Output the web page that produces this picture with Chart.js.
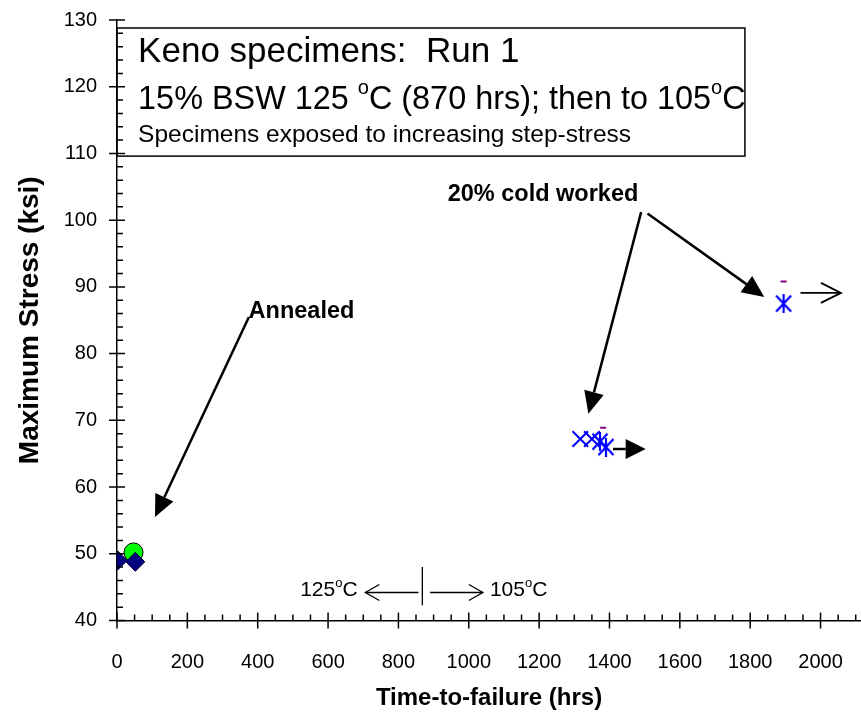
<!DOCTYPE html>
<html lang="en">
<head>
<meta charset="UTF-8">
<title>Keno specimens: Run 1</title>
<script src="https://cdn.jsdelivr.net/npm/chart.js"></script>
<style>
  html, body { margin: 0; padding: 0; background: #fff; }
  #wrap { width: 861px; height: 718px; }
</style>
</head>
<body>
<div id="wrap"><canvas id="keno"></canvas></div>
<script>
  // axes
  const xMin = 0, xMax = 2115, xStep = 200, xMinorStep = 50;
  const yMin = 40, yMax = 130, yStep = 10, yMinorStep = 2;
  const xTickValues = [0, 200, 400, 600, 800, 1000, 1200, 1400, 1600, 1800, 2000];
  const yTickValues = [40, 50, 60, 70, 80, 90, 100, 110, 120, 130];

  // annealed specimens
  const annealedTime = [2, 52];
  const annealedStress = [49.0, 48.8];
  const circleTime = [47];
  const circleStress = [50.2];

  // 20% cold worked specimens
  const coldCrossTime = [1317, 1350];
  const coldCrossStress = [67.2, 67.2];
  const coldStarTime = [1373, 1390, 1895];
  const coldStarStress = [66.8, 66.0, 87.5];
  const dashTime = [1382, 1895];
  const dashStress = [68.9, 90.8];

  const FONT = "'Liberation Sans', Arial, sans-serif";
  const NARROW_FONT = "'Liberation Sans Narrow', 'Arial Narrow', " + FONT;
  Chart.defaults.font.family = FONT;
  Chart.defaults.color = '#000';

  // the axis numbers in the original are a condensed face
  function hasFont(name) {
    const g = document.createElement('canvas').getContext('2d');
    g.font = '20px monospace';
    const a = g.measureText('abcdefghij 0123').width;
    g.font = `20px '${name}', monospace`;
    return g.measureText('abcdefghij 0123').width !== a;
  }
  const narrow = hasFont('Liberation Sans Narrow');
  const tickFont = narrow ? { family: NARROW_FONT, size: 24 } : { size: 20 };
  const xTitleFont = narrow ? { family: NARROW_FONT, size: 29, weight: 'bold' } : { size: 24, weight: 'bold' };

  function points(xs, ys) {
    return xs.map((v, i) => ({ x: v, y: ys[i] }));
  }

  // excel style star marker: X plus a vertical bar
  function starMarker(w, h, color) {
    const c = document.createElement('canvas');
    c.width = w; c.height = h;
    const g = c.getContext('2d');
    g.strokeStyle = color;
    g.lineWidth = 2.2;
    g.beginPath();
    g.moveTo(1.5, 1.5); g.lineTo(w - 1.5, h - 1.5);
    g.moveTo(w - 1.5, 1.5); g.lineTo(1.5, h - 1.5);
    g.moveTo(w / 2, 0); g.lineTo(w / 2, h);
    g.stroke();
    return c;
  }

  function arrow(ctx, x1, y1, x2, y2, len, half, filled) {
    const ang = Math.atan2(y2 - y1, x2 - x1);
    const bx = x2 - Math.cos(ang) * len, by = y2 - Math.sin(ang) * len;
    const nx = -Math.sin(ang) * half, ny = Math.cos(ang) * half;
    ctx.beginPath();
    ctx.moveTo(x1, y1);
    ctx.lineTo(filled ? bx : x2, filled ? by : y2);
    ctx.stroke();
    ctx.beginPath();
    ctx.moveTo(bx + nx, by + ny);
    ctx.lineTo(x2, y2);
    ctx.lineTo(bx - nx, by - ny);
    if (filled) { ctx.closePath(); ctx.fill(); } else { ctx.stroke(); }
  }

  // text with superscript parts
  function richText(ctx, parts, x, y, size, weight) {
    let cx = x;
    parts.forEach(p => {
      const s = p.sup ? size * 0.62 : size;
      ctx.font = `${weight || ''} ${s}px ${FONT}`;
      ctx.fillText(p.t, cx, p.sup ? y - size * 0.36 : y);
      cx += ctx.measureText(p.t).width;
    });
    return cx - x;
  }

  const decor = {
    id: 'decor',
    afterDraw(chart) {
      const { ctx, chartArea: a, scales: { x, y } } = chart;
      const px = v => x.getPixelForValue(v);
      const py = v => y.getPixelForValue(v);
      ctx.save();
      ctx.strokeStyle = '#000';
      ctx.fillStyle = '#000';

      // tick marks
      ctx.lineWidth = 1.5;
      ctx.beginPath();
      for (let v = xMin; v <= xMax; v += xMinorStep) {
        const p = px(v);
        const major = v % xStep === 0;
        ctx.moveTo(p, a.bottom + (major ? 8 : 0));
        ctx.lineTo(p, a.bottom - (major ? 8 : 6));
      }
      for (let v = yMin; v <= yMax; v += yMinorStep) {
        const p = py(v);
        const major = v % yStep === 0;
        ctx.moveTo(a.left - (major ? 8 : 0), p);
        ctx.lineTo(a.left + (major ? 8 : 6), p);
      }
      ctx.stroke();

      // title box
      ctx.lineWidth = 1.5;
      ctx.strokeRect(px(0), py(128.8), px(1785) - px(0), py(109.6) - py(128.8));
      ctx.textBaseline = 'middle';
      ctx.textAlign = 'left';
      ctx.font = `35px ${FONT}`;
      ctx.fillText('Keno specimens:  Run 1', px(60), py(125.2));
      richText(ctx, [
        { t: '15% BSW 125 ' }, { t: 'o', sup: true }, { t: 'C (870 hrs); then to 105' },
        { t: 'o', sup: true }, { t: 'C' }
      ], px(60), py(118), 32.4);
      ctx.font = `24.5px ${FONT}`;
      ctx.fillText('Specimens exposed to increasing step-stress', px(60), py(112.75));

      // annotations
      ctx.font = `bold 23.5px ${FONT}`;
      ctx.fillText('Annealed', px(374), py(86.3));
      ctx.fillText('20% cold worked', px(940), py(103.8));

      ctx.lineWidth = 2.5;
      arrow(ctx, px(375), py(85.5), px(108), py(55.5), 22, 10, true);
      arrow(ctx, px(1490), py(101.2), px(1340), py(71.0), 22, 10, true);
      arrow(ctx, px(1508), py(101.0), px(1840), py(88.5), 22, 10, true);
      arrow(ctx, px(1410), py(65.7), px(1503), py(65.7), 20, 10, true);
      ctx.lineWidth = 1.8;
      arrow(ctx, px(1943), py(89.1), px(2058), py(89.1), 20, 10, false);

      // temperature change at 870 hrs
      ctx.lineWidth = 1.3;
      ctx.beginPath();
      ctx.moveTo(px(868), py(48.0));
      ctx.lineTo(px(868), py(42.3));
      ctx.stroke();
      arrow(ctx, px(857), py(44.2), px(706), py(44.2), 14, 8, false);
      arrow(ctx, px(890), py(44.2), px(1040), py(44.2), 14, 8, false);
      const tempParts = t => [{ t: t }, { t: 'o', sup: true }, { t: 'C' }];
      ctx.globalAlpha = 0;
      const w125 = richText(ctx, tempParts('125'), 0, 0, 21);
      ctx.globalAlpha = 1;
      richText(ctx, tempParts('125'), px(684) - w125, py(44.5), 21);
      richText(ctx, tempParts('105'), px(1060), py(44.5), 21);
      ctx.restore();
    }
  };

  new Chart(document.getElementById('keno'), {
    type: 'scatter',
    data: {
      datasets: [
        {
          label: 'Annealed',
          data: points(annealedTime, annealedStress),
          pointStyle: 'rectRot',
          pointRadius: 9.5,
          backgroundColor: '#000080',
          borderColor: '#000033',
          borderWidth: 1
        },
        {
          label: 'Annealed (circle)',
          data: points(circleTime, circleStress),
          pointStyle: 'circle',
          pointRadius: 9.5,
          backgroundColor: '#00ff00',
          borderColor: '#000',
          borderWidth: 1
        },
        {
          label: '20% cold worked (x)',
          data: points(coldCrossTime, coldCrossStress),
          pointStyle: 'crossRot',
          pointRadius: 11,
          borderColor: '#0000ff',
          borderWidth: 2
        },
        {
          label: '20% cold worked',
          data: points(coldStarTime, coldStarStress),
          pointStyle: starMarker(18, 19, '#0000ff')
        },
        {
          label: 'step',
          data: points(dashTime, dashStress),
          pointStyle: 'line',
          pointRadius: 3,
          borderColor: '#800080',
          borderWidth: 2
        }
      ]
    },
    options: {
      responsive: true,
      maintainAspectRatio: false,
      animation: false,
      devicePixelRatio: 1,
      layout: { autoPadding: false, padding: { top: 20, right: 0, bottom: 0, left: 0 } },
      plugins: { legend: { display: false }, tooltip: { enabled: false } },
      scales: {
        x: {
          type: 'linear',
          min: xMin,
          max: xMax,
          afterBuildTicks: s => { s.ticks = xTickValues.map(v => ({ value: v })); },
          afterFit: s => { s.height = 97.5; s.paddingLeft = 0; s.paddingRight = 0; },
          grid: { display: false, drawTicks: false },
          border: { display: true, color: '#000', width: 1.5 },
          ticks: {
            autoSkip: false, maxRotation: 0, padding: narrow ? 28 : 30,
            font: tickFont,
            callback: v => String(v)
          },
          title: {
            display: true,
            text: 'Time-to-failure (hrs)',
            font: xTitleFont,
            padding: { top: 0, bottom: narrow ? 2 : 5 }
          }
        },
        y: {
          type: 'linear',
          min: yMin,
          max: yMax,
          afterBuildTicks: s => { s.ticks = yTickValues.map(v => ({ value: v })); },
          afterFit: s => { s.width = 117; s.paddingTop = 0; s.paddingBottom = 0; },
          grid: { display: false, drawTicks: false },
          border: { display: true, color: '#000', width: 1.5 },
          ticks: {
            padding: 20,
            font: tickFont,
            callback: v => String(v)
          },
          title: {
            display: true,
            text: 'Maximum Stress (ksi)',
            font: { size: 28, weight: 'bold' },
            padding: { top: 13, bottom: 0 }
          }
        }
      }
    },
    plugins: [decor]
  });
</script>
</body>
</html>
